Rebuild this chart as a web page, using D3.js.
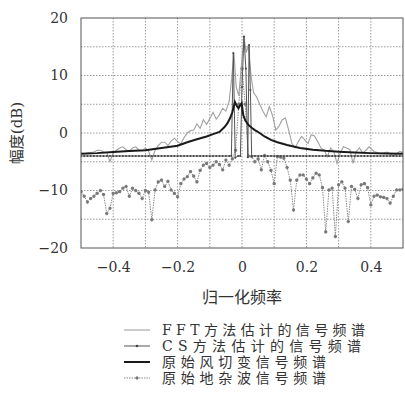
<!DOCTYPE html>
<html><head><meta charset="utf-8">
<script src="https://cdn.jsdelivr.net/npm/d3@7/dist/d3.min.js"></script>
<style>
html,body{margin:0;padding:0;background:#fff;}
svg{display:block;}
</style></head>
<body>
<svg id="c" width="405" height="401"></svg>
<script>
// ---- data ----
const xTicks = [-0.4, -0.2, 0, 0.2, 0.4];
const xTickLabels = ["\u22120.4", "\u22120.2", "0", "0.2", "0.4"];
const yTicks = [-20, -10, 0, 10, 20];
const yTickLabels = ["\u221220", "\u221210", "0", "10", "20"];
const xGrid = [-0.4, -0.3, -0.2, -0.1, 0, 0.1, 0.2, 0.3, 0.4];
const yGrid = [-15, -10, -5, 0, 5, 10, 15];

const seriesNames = ["FFT方法估计的信号频谱", "CS方法估计的信号频谱", "原始风切变信号频谱", "原始地杂波信号频谱"];

// FFT estimate
const fftX = [-0.5,-0.49,-0.48,-0.47,-0.46,-0.45,-0.44,-0.43,-0.42,-0.41,-0.4,-0.39,-0.38,-0.37,-0.36,-0.35,-0.34,-0.33,-0.32,-0.31,-0.3,-0.29,-0.28,-0.27,-0.26,-0.25,-0.24,-0.23,-0.22,-0.21,-0.2,-0.19,-0.18,-0.17,-0.16,-0.15,-0.14,-0.13,-0.12,-0.11,-0.1,-0.09,-0.08,-0.07,-0.06,-0.05,-0.04,-0.032,-0.025,-0.018,-0.01,-0.003,0.006,0.013,0.02,0.028,0.036,0.045,0.055,0.065,0.075,0.085,0.095,0.105,0.115,0.125,0.135,0.145,0.155,0.165,0.175,0.185,0.195,0.205,0.215,0.225,0.235,0.245,0.255,0.265,0.275,0.285,0.295,0.305,0.315,0.325,0.335,0.345,0.355,0.365,0.375,0.385,0.395,0.41,0.42,0.43,0.44,0.45,0.46,0.47,0.48,0.49,0.5];
const fftY = [-3.5,-3.6,-3.5,-3.4,-3.3,-3.0,-3.0,-3.3,-3.4,-5.0,-3.5,-3.0,-2.6,-2.4,-2.9,-3.2,-2.6,-2.4,-3.0,-3.1,-2.6,-3.2,-4.7,-3.0,-2.2,-1.6,-1.6,-2.2,-1.4,-0.9,-1.5,-1.9,-0.8,0.0,0.4,0.5,1.6,0.8,2.3,1.5,2.5,3.6,2.4,3.2,4.3,3.8,5.5,9.5,13.9,8.0,6.5,11.0,16.8,14.0,15.3,10.0,7.0,6.3,5.0,3.8,2.8,4.6,3.0,0.5,1.2,2.3,2.6,0.5,-1.8,-2.6,-1.5,-0.6,-1.2,-1.8,-0.3,-0.5,-1.5,-2.6,-3.0,-4.1,-2.6,-3.2,-5.3,-3.5,-2.4,-2.6,-2.9,-5.3,-3.2,-2.6,-3.5,-3.0,-2.4,-3.2,-3.4,-3.6,-3.5,-3.3,-3.6,-4.0,-3.6,-3.2,-3.4];

// CS estimate (sparse)
const csX = [-0.5,-0.49,-0.48,-0.47,-0.46,-0.45,-0.44,-0.43,-0.42,-0.41,-0.4,-0.39,-0.38,-0.37,-0.36,-0.35,-0.34,-0.33,-0.32,-0.31,-0.3,-0.29,-0.28,-0.27,-0.26,-0.25,-0.24,-0.23,-0.22,-0.21,-0.2,-0.19,-0.18,-0.17,-0.16,-0.15,-0.14,-0.13,-0.12,-0.11,-0.1,-0.09,-0.08,-0.07,-0.06,-0.05,-0.04,-0.033,-0.027,-0.021,-0.012,-0.005,0.0,0.006,0.012,0.018,0.022,0.026,0.03,0.04,0.05,0.06,0.07,0.08,0.09,0.1,0.11,0.12,0.13,0.14,0.15,0.16,0.17,0.18,0.19,0.2,0.21,0.22,0.23,0.24,0.25,0.26,0.27,0.28,0.29,0.3,0.31,0.32,0.33,0.34,0.35,0.36,0.37,0.38,0.39,0.4,0.41,0.42,0.43,0.44,0.45,0.46,0.47,0.48,0.49,0.5];
const csY = [-4,-4,-4,-4,-4,-4,-4,-4,-4,-4,-4,-4,-4,-4,-4,-4,-4,-4,-4,-4,-4,-4,-4,-4,-4,-4,-4,-4,-4,-4,-4,-4,-4,-4,-4,-4,-4,-4,-4,-4,-4,-4,-4,-4,-4,-4,-4,-4,13.9,-4.3,-4,-4,8.0,16.8,11.2,-4.2,15.3,7.5,-4,-4,-4,-4,-4,-4,-4,-4,-4,-4,-4,-4,-4,-4,-4,-4,-4,-4,-4,-4,-4,-4,-4,-4,-4,-4,-4,-4,-4,-4,-4,-4,-4,-4,-4,-4,-4,-4,-4,-4,-4,-4,-4,-4,-4,-4,-4,-4];

// original wind shear
const windX = [-0.5,-0.45,-0.4,-0.35,-0.3,-0.25,-0.2,-0.17,-0.14,-0.11,-0.09,-0.07,-0.055,-0.045,-0.037,-0.03,-0.022,-0.016,-0.011,-0.006,-0.001,0.004,0.01,0.02,0.03,0.04,0.055,0.07,0.09,0.11,0.14,0.18,0.22,0.26,0.3,0.35,0.4,0.45,0.5];
const windY = [-3.6,-3.5,-3.3,-3.15,-3.0,-2.6,-2.2,-1.6,-1.1,-0.6,-0.2,0.2,1.0,1.7,2.6,3.6,5.4,4.7,4.3,4.8,5.2,3.1,2.2,1.4,0.9,0.5,0.0,-0.6,-1.2,-1.6,-2.1,-2.6,-2.9,-3.1,-3.25,-3.4,-3.5,-3.55,-3.6];

// original ground clutter
const cluX = [-0.5,-0.49,-0.48,-0.47,-0.46,-0.45,-0.44,-0.43,-0.42,-0.41,-0.4,-0.39,-0.38,-0.37,-0.36,-0.35,-0.34,-0.33,-0.32,-0.31,-0.3,-0.29,-0.28,-0.27,-0.26,-0.25,-0.24,-0.23,-0.22,-0.21,-0.2,-0.19,-0.18,-0.17,-0.16,-0.15,-0.14,-0.13,-0.12,-0.11,-0.1,-0.09,-0.08,-0.07,-0.06,-0.05,-0.04,-0.03,-0.02,-0.01,0.0,0.01,0.02,0.03,0.04,0.05,0.06,0.07,0.08,0.09,0.1,0.11,0.12,0.13,0.14,0.15,0.16,0.17,0.18,0.19,0.2,0.21,0.22,0.23,0.24,0.25,0.26,0.27,0.28,0.29,0.3,0.31,0.32,0.33,0.34,0.35,0.36,0.37,0.38,0.39,0.4,0.41,0.42,0.43,0.44,0.45,0.46,0.47,0.48,0.49,0.5];
const cluY = [-10.2,-11.0,-12.0,-11.4,-11.0,-10.5,-10.0,-10.7,-14.0,-13.1,-10.5,-10.4,-10.2,-9.6,-9.3,-11.0,-9.6,-10.0,-10.5,-11.4,-10.0,-10.3,-15.1,-9.9,-8.5,-8.2,-9.3,-8.4,-9.9,-10.5,-11.1,-8.8,-8.0,-7.6,-6.7,-7.5,-8.5,-6.5,-5.6,-5.3,-6.0,-5.6,-5.0,-5.5,-6.4,-4.7,-5.6,-4.5,-3.0,5.0,11.2,5.0,-4.0,-4.1,-5.0,-4.5,-6.4,-3.9,-5.0,-6.5,-8.8,-4.1,-4.2,-4.4,-6.0,-8.2,-13.4,-8.2,-7.3,-7.3,-8.0,-8.8,-7.8,-7.0,-7.3,-9.5,-17.2,-9.9,-9.6,-18.0,-9.0,-8.5,-9.6,-15.4,-9.3,-9.8,-11.4,-9.0,-8.8,-9.5,-12.5,-11.0,-10.8,-11.1,-11.2,-11.4,-12.2,-11.0,-9.9,-9.9,-9.8];

// ---- drawing ----
const svg = d3.select("#c");
const L = 81, R = 403, T = 18, B = 248;
const x = d3.scaleLinear().domain([-0.5, 0.5]).range([L, R]);
const y = d3.scaleLinear().domain([-20, 20]).range([B, T]);
const serif = "'DejaVu Serif', 'Liberation Serif', serif";
const mixed = "'DejaVu Serif', 'Noto Sans CJK SC', 'Noto Sans CJK JP', serif";

// grid
svg.append("g").selectAll("line").data(xGrid).join("line")
  .attr("x1", d => x(d)).attr("x2", d => x(d)).attr("y1", T).attr("y2", B)
  .attr("stroke", "#9a9a9a").attr("stroke-width", 1).attr("stroke-dasharray", "1.5,1.5");
svg.append("g").selectAll("line").data(yGrid).join("line")
  .attr("y1", d => y(d)).attr("y2", d => y(d)).attr("x1", L).attr("x2", R)
  .attr("stroke", "#9a9a9a").attr("stroke-width", 1).attr("stroke-dasharray", "1.5,1.5");

// axes (tick labels only)
const xAxis = d3.axisBottom(x).tickValues(xTicks).tickSize(0).tickPadding(14)
  .tickFormat((d, i) => xTickLabels[i]);
const gx = svg.append("g").attr("transform", `translate(0,${B})`).call(xAxis);
gx.select(".domain").remove();
gx.selectAll("text").style("font-family", serif).style("font-size", "14px").style("fill", "#333");

const yAxis = d3.axisLeft(y).tickValues(yTicks).tickSize(0).tickPadding(13)
  .tickFormat((d, i) => yTickLabels[i]);
const gy = svg.append("g").attr("transform", `translate(${L},0)`).call(yAxis);
gy.select(".domain").remove();
gy.selectAll("text").style("font-family", serif).style("font-size", "14px").style("fill", "#333");

// clip
svg.append("clipPath").attr("id", "clip").append("rect")
  .attr("x", L).attr("y", T).attr("width", R - L).attr("height", B - T);
const plot = svg.append("g").attr("clip-path", "url(#clip)");

const line = d3.line().x(d => x(d[0])).y(d => y(d[1]));
const zip = (a, b) => a.map((v, i) => [v, b[i]]);

const fftData = zip(fftX, fftY);
const csData = zip(csX, csY);
const windData = zip(windX, windY);
const cluData = zip(cluX, cluY);

// clutter: dotted line with star markers
plot.append("path").datum(cluData).attr("d", line).attr("fill", "none")
  .attr("stroke", "#8a8a8a").attr("stroke-width", 1).attr("stroke-dasharray", "1.5,1");
const star = d3.symbol().type(d3.symbolCross).size(6);
plot.append("g").selectAll("path").data(cluData).join("path")
  .attr("transform", d => `translate(${x(d[0])},${y(d[1])}) rotate(45)`)
  .attr("d", star).attr("fill", "#777");
plot.append("g").selectAll("path").data(cluData).join("path")
  .attr("transform", d => `translate(${x(d[0])},${y(d[1])})`)
  .attr("d", star).attr("fill", "#777");

// FFT: thin gray line
plot.append("path").datum(fftData).attr("d", line).attr("fill", "none")
  .attr("stroke", "#a0a0a0").attr("stroke-width", 1.1);

// CS: thin line with dots
plot.append("path").datum(csData).attr("d", line).attr("fill", "none")
  .attr("stroke", "#555").attr("stroke-width", 1);
plot.append("g").selectAll("circle").data(csData).join("circle")
  .attr("cx", d => x(d[0])).attr("cy", d => y(d[1])).attr("r", 1).attr("fill", "#444");

// wind shear: thick black
plot.append("path").datum(windData).attr("d", line).attr("fill", "none")
  .attr("stroke", "#1a1a1a").attr("stroke-width", 2);

// frame
svg.append("rect").attr("x", L).attr("y", T).attr("width", R - L).attr("height", B - T)
  .attr("fill", "none").attr("stroke", "#555").attr("stroke-width", 1);

// axis titles
svg.append("text").attr("x", x(0)).attr("y", 303).attr("text-anchor", "middle")
  .style("font-family", mixed).style("font-size", "16px").attr("fill", "#333").text("归一化频率");
svg.append("text").attr("transform", `translate(22,${y(0)}) rotate(-90)`).attr("text-anchor", "middle")
  .style("font-family", mixed).style("font-size", "15px").attr("fill", "#333").text("幅度(dB)");

// legend
const legY = [330, 346, 362, 378];
const legW = [203, 199, 164, 164];
const lg = svg.append("g");
seriesNames.forEach((name, i) => {
  const yy = legY[i];
  lg.append("text").attr("x", 162).attr("y", yy + 5).style("font-family", mixed)
    .style("font-size", "14px").attr("fill", "#333")
    .attr("textLength", legW[i]).attr("lengthAdjust", "spacing").text(name);
});
// legend samples
lg.append("line").attr("x1", 124).attr("x2", 150).attr("y1", legY[0]).attr("y2", legY[0])
  .attr("stroke", "#a0a0a0").attr("stroke-width", 1.1);
lg.append("line").attr("x1", 124).attr("x2", 150).attr("y1", legY[1]).attr("y2", legY[1])
  .attr("stroke", "#555").attr("stroke-width", 1);
lg.append("circle").attr("cx", 137).attr("cy", legY[1]).attr("r", 1.3).attr("fill", "#444");
lg.append("line").attr("x1", 124).attr("x2", 150).attr("y1", legY[2]).attr("y2", legY[2])
  .attr("stroke", "#1a1a1a").attr("stroke-width", 2);
lg.append("line").attr("x1", 124).attr("x2", 150).attr("y1", legY[3]).attr("y2", legY[3])
  .attr("stroke", "#8a8a8a").attr("stroke-width", 1).attr("stroke-dasharray", "1.5,1");
lg.append("path").attr("transform", `translate(137,${legY[3]})`).attr("d", star).attr("fill", "#777");
lg.append("path").attr("transform", `translate(137,${legY[3]}) rotate(45)`).attr("d", star).attr("fill", "#777");
</script>
</body></html>
